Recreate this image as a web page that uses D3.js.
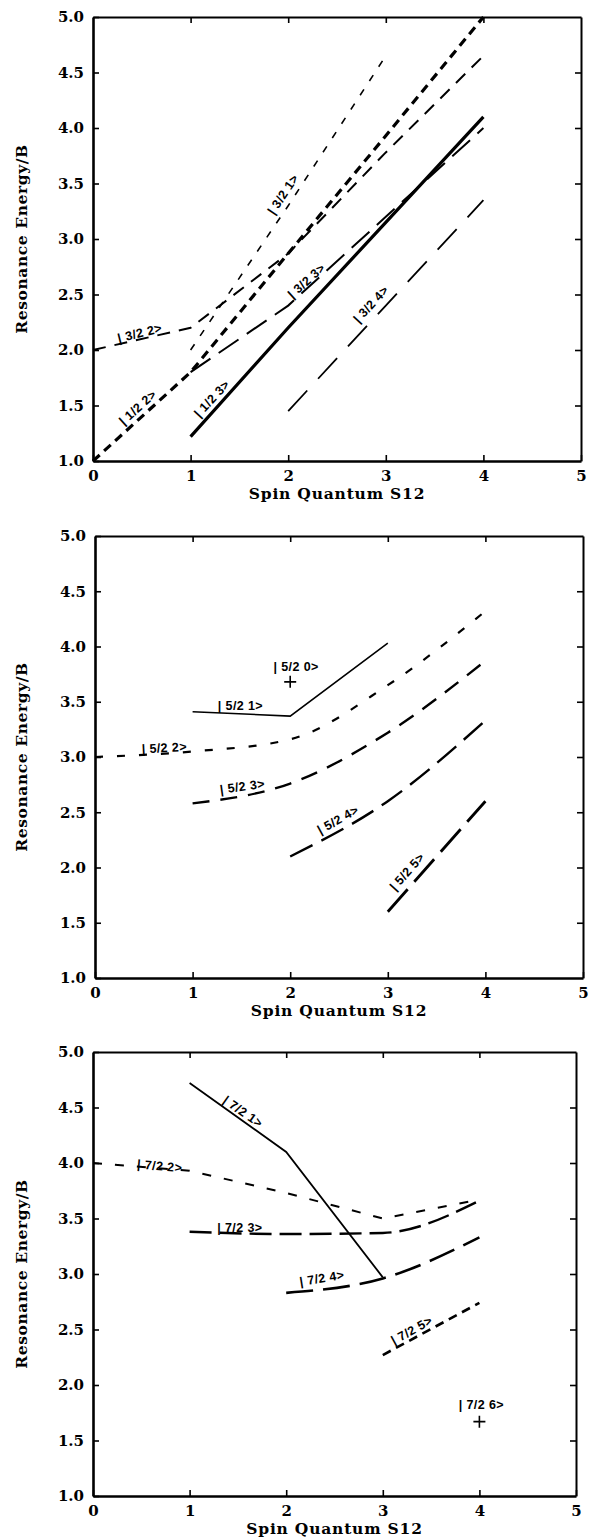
<!DOCTYPE html>
<html>
<head>
<meta charset="utf-8">
<script src="https://cdn.jsdelivr.net/npm/d3@7"></script>
<style>
  body { margin: 0; background: #fff; }
  svg { display: block; }
</style>
</head>
<body>
<script>
const W = 590;
const H = 1539;

const spinTicks = [0, 1, 2, 3, 4, 5];
const innerSpinTicks = [1, 2, 3, 4];
const energyTicks = [1.0, 1.5, 2.0, 2.5, 3.0, 3.5, 4.0, 4.5, 5.0];

// panel 1: S = 1/2 and 3/2 states
const p1Names = ["| 1/2 2>", "| 1/2 3>", "| 3/2 1>", "| 3/2 2>", "| 3/2 3>", "| 3/2 4>"];
const p1S = [[0, 1, 2, 3, 4], [1, 2, 3, 4], [1, 2, 3], [0, 1, 2, 3, 4], [1, 2, 3, 4], [2, 3, 4]];
const p1E = [[1.0, 1.8, 2.87, 3.93, 5.0], [1.22, 2.2, 3.15, 4.1], [2.0, 3.3, 4.65],
             [2.0, 2.2, 2.87, 3.78, 4.65], [1.8, 2.4, 3.2, 4.0], [1.45, 2.4, 3.35]];

// panel 2: S = 5/2 states
const p2Names = ["| 5/2 1>", "| 5/2 2>", "| 5/2 3>", "| 5/2 4>", "| 5/2 5>"];
const p2S = [[1, 2, 3], [0, 1, 2, 3, 4], [1, 2, 3, 4], [2, 3, 4], [3, 4]];
const p2E = [[3.41, 3.37, 4.03], [3.0, 3.05, 3.16, 3.65, 4.32], [2.58, 2.76, 3.22, 3.87],
             [2.1, 2.6, 3.33], [1.6, 2.6]];
const p2PointName = ["| 5/2 0>"];
const p2PointS = [2];
const p2PointE = [3.68];

// panel 3: S = 7/2 states
const p3Names = ["| 7/2 1>", "| 7/2 2>", "| 7/2 3>", "| 7/2 4>", "| 7/2 5>"];
const p3S = [[1, 2, 3], [0, 1, 2, 3, 4], [1, 2, 3, 4], [2, 3, 4], [3, 4]];
const p3E = [[4.72, 4.1, 2.97], [4.0, 3.93, 3.73, 3.5, 3.67], [3.38, 3.36, 3.37, 3.66],
             [2.83, 2.96, 3.33], [2.27, 2.74]];
const p3PointName = ["| 7/2 6>"];
const p3PointS = [4];
const p3PointE = [1.67];

// where the state labels sit (data units) and their tilt
const p1LabelAt = [[0.46, 1.48, -42], [1.22, 1.56, -47], [1.95, 3.40, -56],
                   [0.48, 2.15, -14], [2.19, 2.62, -42], [2.85, 2.41, -47]];
const p2LabelAt = [[1.49, 3.46, 0], [0.71, 3.08, -3], [1.51, 2.73, -8], [2.49, 2.43, -29], [3.2, 1.96, -48]];
const p2PointLabelAt = [[2.06, 3.81, 0]];
const p3LabelAt = [[1.55, 4.46, 35], [0.69, 3.97, 5], [1.52, 3.41, 0], [2.37, 2.96, -9], [3.3, 2.49, -29]];
const p3PointLabelAt = [[4.02, 1.82, 0]];

// line looks
const p1Style = [
  { w: 3.2, d: "9,6" }, { w: 3.2, d: null }, { w: 1.6, d: "7,10" },
  { w: 2, d: "13,9" }, { w: 2, d: "24,10" }, { w: 1.8, d: "28,16" }
];
const p2Style = [
  { w: 1.6, d: null }, { w: 2.2, d: "8,14", c: true }, { w: 2.4, d: "17,11", c: true },
  { w: 2.4, d: "25,10", c: true }, { w: 2.8, d: "30,10" }
];
const p3Style = [
  { w: 1.8, d: null }, { w: 2, d: "9,13" }, { w: 2.4, d: "22,8", c: true },
  { w: 2.6, d: "27,10", c: true }, { w: 2.6, d: "9,6" }
];

const panels = [
  { left: 93, right: 581, top: 17, bottom: 461 },
  { left: 95, right: 583, top: 536, bottom: 978 },
  { left: 93, right: 576, top: 1052, bottom: 1496 }
];

const SERIF = "'DejaVu Serif', serif";
const LABEL = "'Liberation Sans', Arial, sans-serif";

const svg = d3.select("body")
  .append("svg")
  .attr("width", W)
  .attr("height", H);

svg.append("rect").attr("width", W).attr("height", H).attr("fill", "#fff");

function stateLabel(g, x, y, la, n) {
  g.append("text")
    .attr("transform", "translate(" + x(la[0]) + "," + y(la[1]) + ") rotate(" + la[2] + ")")
    .attr("text-anchor", "middle")
    .attr("dominant-baseline", "central")
    .attr("font-family", LABEL)
    .attr("font-weight", "bold")
    .attr("font-size", "12.5px")
    .attr("letter-spacing", "0.4px")
    .text(n);
}

function drawPanel(p, names, S, E, styles, labelAt, ptNames, ptS, ptE, ptLabelAt) {
  const x = d3.scaleLinear().domain([0, 5]).range([p.left, p.right]);
  const y = d3.scaleLinear().domain([1, 5]).range([p.bottom, p.top]);
  const g = svg.append("g");

  names.forEach((n, i) => {
    const pts = S[i].map((s, j) => [s, E[i][j]]);
    const line = d3.line()
      .x(d => x(d[0]))
      .y(d => y(d[1]))
      .curve(styles[i].c ? d3.curveMonotoneX : d3.curveLinear);
    g.append("path")
      .attr("d", line(pts))
      .attr("fill", "none")
      .attr("stroke", "#000")
      .attr("stroke-width", styles[i].w)
      .attr("stroke-dasharray", styles[i].d)
      .attr("stroke-linecap", "butt");
    stateLabel(g, x, y, labelAt[i], n);
  });

  (ptNames || []).forEach((n, i) => {
    g.append("path")
      .attr("d", "M-6,0H6M0,-6V6")
      .attr("transform", "translate(" + x(ptS[i]) + "," + y(ptE[i]) + ")")
      .attr("stroke", "#000")
      .attr("stroke-width", 1.6);
    stateLabel(g, x, y, ptLabelAt[i], n);
  });

  // frame + inward ticks
  const left = g.append("g")
    .attr("transform", "translate(" + p.left + ",0)")
    .call(d3.axisLeft(y).tickValues(energyTicks).tickFormat(d3.format(".1f"))
      .tickSizeInner(-6).tickSizeOuter(0).tickPadding(9));
  const bottom = g.append("g")
    .attr("transform", "translate(0," + p.bottom + ")")
    .call(d3.axisBottom(x).tickValues(spinTicks).tickFormat(d3.format("d"))
      .tickSizeInner(-6).tickSizeOuter(0).tickPadding(9));
  const top = g.append("g")
    .attr("transform", "translate(0," + p.top + ")")
    .call(d3.axisTop(x).tickValues(innerSpinTicks).tickFormat("")
      .tickSizeInner(-6).tickSizeOuter(0));
  const right = g.append("g")
    .attr("transform", "translate(" + p.right + ",0)")
    .call(d3.axisRight(y).tickValues(energyTicks.slice(1, -1)).tickFormat("")
      .tickSizeInner(-6).tickSizeOuter(0));

  [left, bottom].forEach(a => {
    a.select(".domain").attr("stroke-width", 2.6);
    a.selectAll(".tick line").attr("stroke-width", 1.6);
    a.selectAll("text")
      .attr("font-family", SERIF)
      .attr("font-weight", "bold")
      .attr("font-size", "15px")
      .attr("fill", "#000");
  });
  [top, right].forEach(a => {
    a.select(".domain").attr("stroke-width", 2);
    a.selectAll(".tick line").attr("stroke-width", 1.6);
  });

  g.append("text")
    .attr("x", (p.left + p.right) / 2)
    .attr("y", p.bottom + 38)
    .attr("text-anchor", "middle")
    .attr("font-family", SERIF)
    .attr("font-weight", "bold")
    .attr("font-size", "15.5px")
    .attr("letter-spacing", "0.8px")
    .text("Spin Quantum S12");

  g.append("text")
    .attr("transform", "translate(27," + (p.top + p.bottom) / 2 + ") rotate(-90)")
    .attr("text-anchor", "middle")
    .attr("font-family", SERIF)
    .attr("font-weight", "bold")
    .attr("font-size", "15.5px")
    .attr("letter-spacing", "0.6px")
    .text("Resonance Energy/B");
}

drawPanel(panels[0], p1Names, p1S, p1E, p1Style, p1LabelAt);
drawPanel(panels[1], p2Names, p2S, p2E, p2Style, p2LabelAt, p2PointName, p2PointS, p2PointE, p2PointLabelAt);
drawPanel(panels[2], p3Names, p3S, p3E, p3Style, p3LabelAt, p3PointName, p3PointS, p3PointE, p3PointLabelAt);
</script>
</body>
</html>
